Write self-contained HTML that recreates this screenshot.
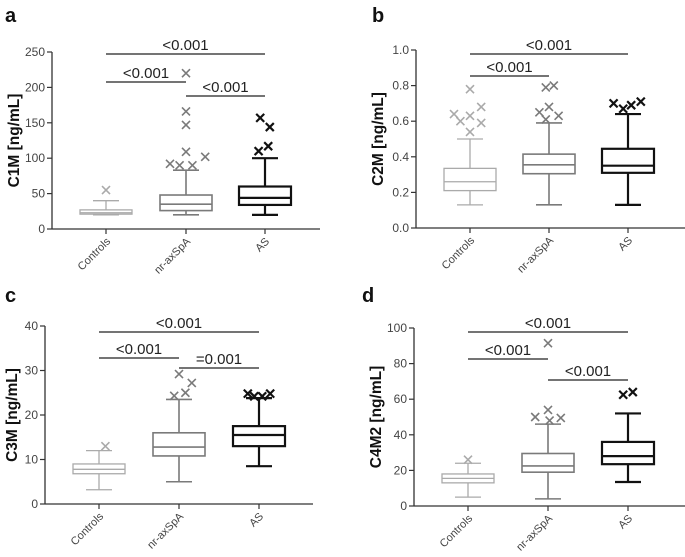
<!DOCTYPE html>
<html><head><meta charset="utf-8"><style>
body{margin:0;background:#fff;}
svg{display:block;font-family:"Liberation Sans",sans-serif;}
</style></head><body>
<svg id="fig" width="685" height="557" viewBox="0 0 685 557"></svg>
<script>
const categories = ["Controls","nr-axSpA","AS"];
// Panel a: C1M
const aTicks = [0,50,100,150,200,250];
const aLow = [20,20,20], aQ1 = [21,26,34], aMed = [23,35,44], aQ3 = [27,48,60], aHigh = [40,83,100];
const aOutliers = [[[0,55]],[[0,220],[0,166],[0,147],[0,109],[-1,92],[-0.4,90],[0.4,90],[1.2,102]],[[-0.3,157],[0.3,144],[-0.4,110],[0.2,117]]];
const aSig = [["<0.001",0,2,1],["<0.001",0,1,2],["<0.001",1,2,3]];
// Panel b: C2M
const bTicks = [0,0.2,0.4,0.6,0.8,1.0];
const bLow = [0.13,0.13,0.13], bQ1 = [0.21,0.305,0.31], bMed = [0.26,0.355,0.35], bQ3 = [0.335,0.415,0.445], bHigh = [0.5,0.59,0.64];
const bOutliers = [[[0,0.78],[-1,0.64],[-0.6,0.60],[0,0.63],[0.7,0.68],[0,0.54],[0.7,0.59]],[[-0.2,0.79],[0.3,0.80],[-0.6,0.65],[0,0.68],[-0.2,0.61],[0.6,0.63]],[[-0.9,0.70],[-0.3,0.67],[0.2,0.69],[0.8,0.71]]];
const bSig = [["<0.001",0,2,1],["<0.001",0,1,2]];
// Panel c: C3M
const cTicks = [0,10,20,30,40];
const cLow = [3.2,5,8.5], cQ1 = [6.8,10.8,13], cMed = [7.8,12.8,15.5], cQ3 = [9,16,17.5], cHigh = [12,23.5,23.8];
const cOutliers = [[[0.4,13]],[[0,29.2],[-0.3,24.3],[0.4,25],[0.8,27.2]],[[-0.7,24.8],[-0.3,24.2],[0.2,24.2],[0.7,24.8]]];
const cSig = [["<0.001",0,2,1],["<0.001",0,1,2],["=0.001",1,2,3]];
// Panel d: C4M2
const dTicks = [0,20,40,60,80,100];
const dLow = [5,4,13.5], dQ1 = [13,19,23.5], dMed = [15.5,22.5,28], dQ3 = [18,29.5,36], dHigh = [24,46,52];
const dOutliers = [[[0,26]],[[0,91.5],[-0.8,50],[0,54],[0.1,48],[0.8,49.5]],[[-0.3,62.5],[0.3,64]]];
const dSig = [["<0.001",0,2,1],["<0.001",0,1,2],["<0.001",1,2,3]];

const NS="http://www.w3.org/2000/svg";
const svg=document.getElementById('fig');
const colors=["#aaaaaa","#7a7a7a","#111111"];
const widths=[1.3,1.6,2.2];
function mk(tag,attrs,parent){const e=document.createElementNS(NS,tag);for(const k in attrs)e.setAttribute(k,attrs[k]);(parent||svg).appendChild(e);return e;}

const panels=[
 {letter:"a",lx:5,ly:22,ax:52,y0:229,y1:52,max:250,xEnd:320,cx:[106,186,265],title:"C1M [ng/mL]",ticks:aTicks,fmt:v=>String(v),low:aLow,q1:aQ1,med:aMed,q3:aQ3,high:aHigh,out:aOutliers,sig:aSig,sy:[54,82,96],name:"c1m"},
 {letter:"b",lx:372,ly:22,ax:416,y0:228,y1:50,max:1.0,xEnd:685,cx:[470,549,628],title:"C2M [ng/mL]",ticks:bTicks,fmt:v=>v.toFixed(1),low:bLow,q1:bQ1,med:bMed,q3:bQ3,high:bHigh,out:bOutliers,sig:bSig,sy:[54,76],name:"c2m"},
 {letter:"c",lx:5,ly:302,ax:45,y0:504,y1:326,max:40,xEnd:313,cx:[99,179,259],title:"C3M [ng/mL]",ticks:cTicks,fmt:v=>String(v),low:cLow,q1:cQ1,med:cMed,q3:cQ3,high:cHigh,out:cOutliers,sig:cSig,sy:[332,358,368],name:"c3m"},
 {letter:"d",lx:362,ly:302,ax:414,y0:506,y1:328,max:100,xEnd:685,cx:[468,548,628],title:"C4M2 [ng/mL]",ticks:dTicks,fmt:v=>String(v),low:dLow,q1:dQ1,med:dMed,q3:dQ3,high:dHigh,out:dOutliers,sig:dSig,sy:[332,359,380],name:"c4m2"}
];

panels.forEach(p=>{
 const g=mk('g',{});
 
 
 const Y=v=>p.y0-(v/p.max)*(p.y0-p.y1);
 const L=mk('text',{x:p.lx,y:p.ly,'font-size':20,'font-weight':'bold',fill:'#111'},g);L.textContent=p.letter;
 
 
 const ya=mk('line',{x1:p.ax,y1:p.y1,x2:p.ax,y2:p.y0,stroke:'#333','stroke-width':1.3},g);
 
 
 const xa=mk('line',{x1:p.ax,y1:p.y0,x2:p.xEnd,y2:p.y0,stroke:'#333','stroke-width':1.3},g);
 
 
 p.ticks.forEach(t=>{
  mk('line',{x1:p.ax-5,y1:Y(t),x2:p.ax,y2:Y(t),stroke:'#333','stroke-width':1.2},g);
  const tx=mk('text',{x:p.ax-7,y:Y(t)+4,'font-size':12,'text-anchor':'end',fill:'#444'},g);tx.textContent=p.fmt(t);
  
  
 });
 const tt=mk('text',{x:0,y:0,'font-size':15.5,'font-weight':'bold','text-anchor':'middle',fill:'#111',transform:`translate(${Math.max(p.ax-33,17)},${(p.y0+p.y1)/2}) rotate(-90)`},g);tt.textContent=p.title;
 
 
 categories.forEach((c,i)=>{
  const x=p.cx[i];
  mk('line',{x1:x,y1:p.y0,x2:x,y2:p.y0+5,stroke:'#333','stroke-width':1.2},g);
  const cl=mk('text',{x:0,y:0,'font-size':11,'text-anchor':'end',fill:'#444',transform:`translate(${x+5},${p.y0+13}) rotate(-45)`},g);cl.textContent=c;
  
  
  const col=colors[i],sw=widths[i],hw=26;
  const bg=mk('g',{stroke:col,'stroke-width':sw,fill:'none'},g);
  
  
  mk('line',{x1:x,y1:Y(p.low[i]),x2:x,y2:Y(p.q1[i])},bg);
  mk('line',{x1:x,y1:Y(p.q3[i]),x2:x,y2:Y(p.high[i])},bg);
  mk('line',{x1:x-13,y1:Y(p.low[i]),x2:x+13,y2:Y(p.low[i])},bg);
  mk('line',{x1:x-13,y1:Y(p.high[i]),x2:x+13,y2:Y(p.high[i])},bg);
  mk('rect',{x:x-hw,y:Y(p.q3[i]),width:2*hw,height:Y(p.q1[i])-Y(p.q3[i])},bg);
  mk('line',{x1:x-hw,y1:Y(p.med[i]),x2:x+hw,y2:Y(p.med[i])},bg);
  p.out[i].forEach(o=>{
   const ox=x+o[0]*16,oy=Y(o[1]),s=4;
   const og=mk('g',{stroke:col,'stroke-width':i==2?2.2:1.6},g);
   
   
   mk('line',{x1:ox-s,y1:oy-s,x2:ox+s,y2:oy+s},og);
   mk('line',{x1:ox-s,y1:oy+s,x2:ox+s,y2:oy-s},og);
  });
 });
 p.sig.forEach((s,k)=>{
  const y=p.sy[k],x1=p.cx[s[1]],x2=p.cx[s[2]];
  const sl=mk('line',{x1:x1,y1:y,x2:x2,y2:y,stroke:'#222','stroke-width':1.2},g);
  
  
  const st=mk('text',{x:(x1+x2)/2,y:y-4,'font-size':15,'text-anchor':'middle',fill:'#222'},g);st.textContent=s[0];
  
  
 });
});
</script>
</body></html>
